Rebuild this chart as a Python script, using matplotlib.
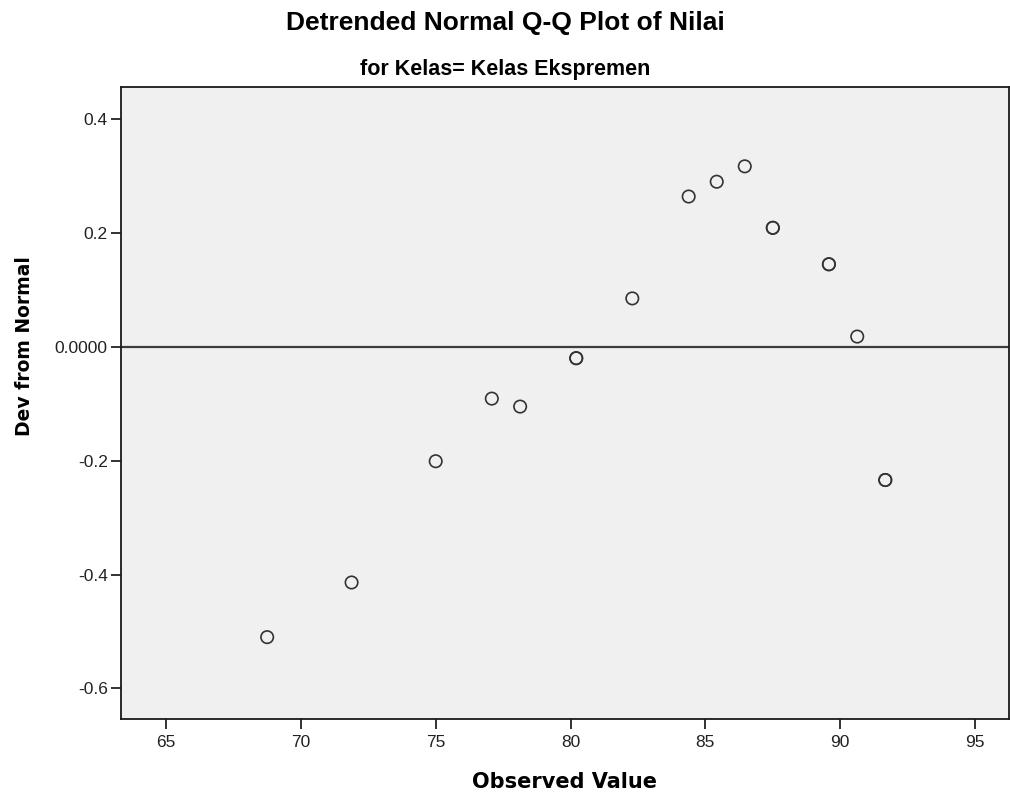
import matplotlib.pyplot as plt

# observed scores (ties repeated) and their deviation from normal
observed = [68.75, 71.88, 75.00, 77.08, 78.13, 80.21, 80.21, 82.29, 84.38,
            85.42, 86.46, 87.50, 87.50, 89.58, 89.58, 90.63, 91.67, 91.67]
dev_normal = [-0.510, -0.414, -0.201, -0.091, -0.105, -0.020, -0.020, 0.085, 0.264,
              0.290, 0.317, 0.209, 0.209, 0.145, 0.145, 0.018, -0.234, -0.234]

x_ticks = [65, 70, 75, 80, 85, 90, 95]
y_ticks = [-0.6, -0.4, -0.2, 0.0, 0.2, 0.4]
y_tick_labels = ['-0.6', '-0.4', '-0.2', '0.0000', '0.2', '0.4']

fig = plt.figure(figsize=(10.1, 7.98), dpi=100)
ax = fig.add_axes([0.1198, 0.099, 0.879, 0.792])
ax.set_facecolor('#f0f0f0')

ax.axhline(0, color='#3c3c3c', lw=1.6, zorder=1)
ax.scatter(observed, dev_normal, s=80, facecolors='none', edgecolors='#333333',
           linewidths=1.2, zorder=3)

ax.set_xlim(63.33, 96.25)
ax.set_ylim(-0.6538, 0.4564)
ax.set_xticks(x_ticks)
ax.set_xticklabels([str(v) for v in x_ticks])
ax.set_yticks(y_ticks)
ax.set_yticklabels(y_tick_labels)
ax.tick_params(direction='out', length=7.5, width=1.3, color='#222222',
               labelsize=12.5, labelcolor='#222222')
ax.tick_params(axis='x', pad=4)
ax.tick_params(axis='y', pad=2)
for lab in ax.get_xticklabels() + ax.get_yticklabels():
    lab.set_family('Liberation Sans')
for sp in ax.spines.values():
    sp.set_color('#1a1a1a')
    sp.set_linewidth(1.3)

ax.set_xlabel('Observed Value', fontsize=15, fontweight='bold', family='DejaVu Sans', labelpad=16)
ax.set_ylabel('Dev from Normal', fontsize=13.5, fontweight='bold', family='DejaVu Sans')
ax.yaxis.set_label_coords(-0.098, 0.59)

fig.text(0.5, 1 - 23 / 798, 'Detrended Normal Q-Q Plot of Nilai', ha='center', va='center',
         fontsize=19, fontweight='bold', family='Liberation Sans')
fig.text(0.5, 1 - 70 / 798, 'for Kelas= Kelas Ekspremen', ha='center', va='center',
         fontsize=15.5, fontweight='bold', family='Liberation Sans')

fig.savefig('out.png', dpi=100)
